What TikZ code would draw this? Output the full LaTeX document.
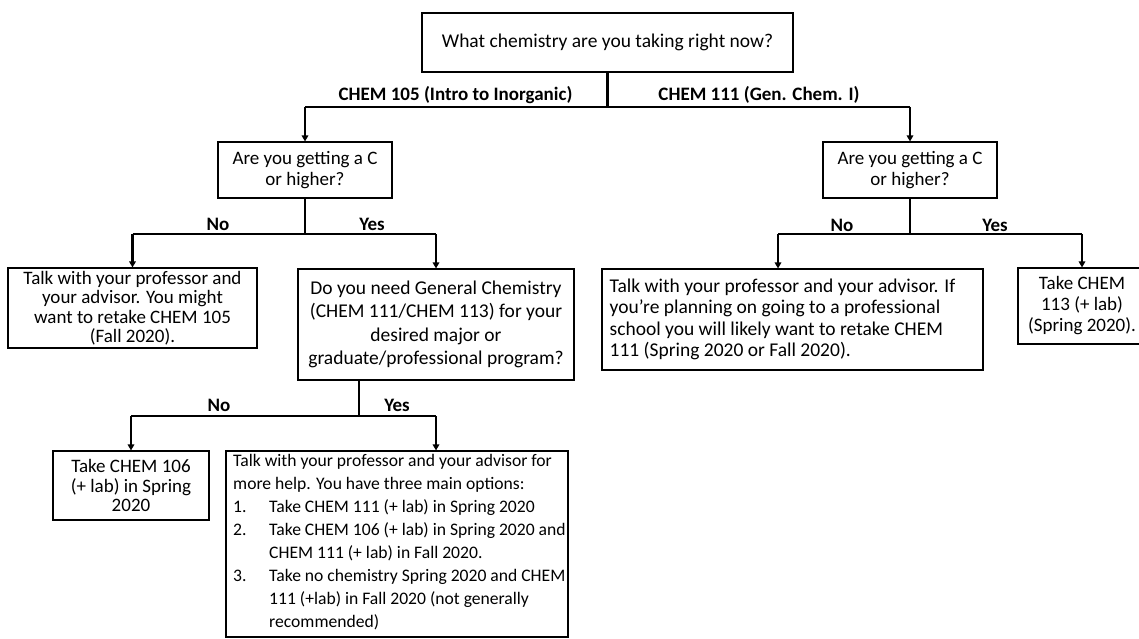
\documentclass[tikz,border=0pt]{standalone}
\usepackage{fontspec}
\setmainfont{Carlito}
\usetikzlibrary{arrows.meta,calc}
\tikzset{
  box/.style={draw=black, line width=1.1pt, inner sep=0pt, align=center, fill=white},
  conn/.style={line width=2.6pt},
  arr/.style={line width=2.2pt, -{Triangle[width=6.5pt,length=6pt]}},
  lbl/.style={font=\fontsize{19}{21}\selectfont\bfseries, inner sep=0pt}
}
\begin{document}
\begin{tikzpicture}[x=1pt,y=-1pt]
\useasboundingbox (0,0) rectangle (1139,639);
% boxes
\node[box, minimum width=371pt, minimum height=59pt, font=\fontsize{19.5}{23}\selectfont] (top) at (607.5,42.5) {What chemistry are you taking right now?};
\node[box, minimum width=174pt, minimum height=56pt, font=\fontsize{19}{21}\selectfont] (lq) at (305,170) {Are you getting a C\\or higher?};
\node[box, minimum width=174pt, minimum height=56pt, font=\fontsize{19}{21}\selectfont] (rq) at (910,170) {Are you getting a C\\or higher?};
\node[box, minimum width=249pt, minimum height=80pt, font=\fontsize{19}{19.5}\selectfont] (lno) at (132.5,308) {Talk with your professor and\\your advisor. You might\\want to retake CHEM 105\\(Fall 2020).};
\node[box, minimum width=276pt, minimum height=111pt, font=\fontsize{19.5}{23.3}\selectfont] (dyn) at (436,324.5) {Do you need General Chemistry\\(CHEM 111/CHEM 113) for your\\desired major or\\graduate/professional program?};
\node[box, minimum width=381pt, minimum height=101pt] (rno) at (792.5,319.5) {};
\node[anchor=west, inner sep=0pt, align=left, font=\fontsize{19.5}{21.5}\selectfont] (rnotext) at ($(rno.west)+(8,0)$) {Talk with your professor and your advisor. If\\you’re planning on going to a professional\\school you will likely want to retake CHEM\\111 (Spring 2020 or Fall 2020).};
\node[box, minimum width=128pt, minimum height=76pt, font=\fontsize{19}{21}\selectfont] (ryes) at (1082,306) {Take CHEM\\113 (+ lab)\\(Spring 2020).};
\node[box, minimum width=156pt, minimum height=69pt, font=\fontsize{19}{19.5}\selectfont] (c106) at (131,485.5) {Take CHEM 106\\(+ lab) in Spring\\2020};
\node[box, minimum width=342pt, minimum height=186pt] (big) at (397,544) {};
\node[anchor=north west, inner sep=0pt, align=left, font=\fontsize{17.6}{23}\selectfont] (bigtext) at (233,454) {Talk with your professor and your advisor for\\more help. You have three main options:\\\makebox[36pt][l]{1.}Take CHEM 111 (+ lab) in Spring 2020\\\makebox[36pt][l]{2.}Take CHEM 106 (+ lab) in Spring 2020 and\\\hspace*{36pt}CHEM 111 (+ lab) in Fall 2020.\\\makebox[36pt][l]{3.}Take no chemistry Spring 2020 and CHEM\\\hspace*{36pt}111 (+lab) in Fall 2020 (not generally\\\hspace*{36pt}recommended)};
% junctions
\coordinate (j1) at (607.5,107);
\coordinate (j2) at (305,234);
\coordinate (j3) at (910,234);
\coordinate (j4) at (359,416);
% connectors
\draw[conn] (top.south) -- (j1);
\draw[conn] (j1 -| lq.north) -- (j1 -| rq.north);
\draw[arr] (j1 -| lq.north) -- (lq.north);
\draw[arr] (j1 -| rq.north) -- (rq.north);
\draw[conn] (lq.south) -- (j2);
\draw[conn] (j2 -| lno.north) -- (j2 -| dyn.north);
\draw[arr] (j2 -| lno.north) -- (lno.north);
\draw[arr] (j2 -| dyn.north) -- (dyn.north);
\draw[conn] (rq.south) -- (j3);
\draw[conn] ($(j3 -| rno.north)+(-14.5,0)$) -- (j3 -| ryes.north);
\draw[arr] ($(j3 -| rno.north)+(-14.5,0)$) -- ($(rno.north)+(-14.5,0)$);
\draw[arr] (j3 -| ryes.north) -- (ryes.north);
\draw[conn] ($(dyn.south)+(-77,0)$) -- (j4);
\draw[conn] (j4 -| c106.north) -- ($(j4 -| big.north)+(39,0)$);
\draw[arr] (j4 -| c106.north) -- (c106.north);
\draw[arr] ($(j4 -| big.north)+(39,0)$) -- ($(big.north)+(39,0)$);
% labels
\node[lbl] (l105) at (455.5,95) {CHEM 105 (Intro to Inorganic)};
\node[lbl] (l111) at (759,95) {CHEM 111 (Gen. Chem. I)};
\node[lbl] (n1) at (218,224) {No};
\node[lbl] (y1) at (372,224) {Yes};
\node[lbl] (n2) at (842,225) {No};
\node[lbl] (y2) at (995,225) {Yes};
\node[lbl] (n3) at (219,405) {No};
\node[lbl] (y3) at (397,405) {Yes};
\end{tikzpicture}
\end{document}
